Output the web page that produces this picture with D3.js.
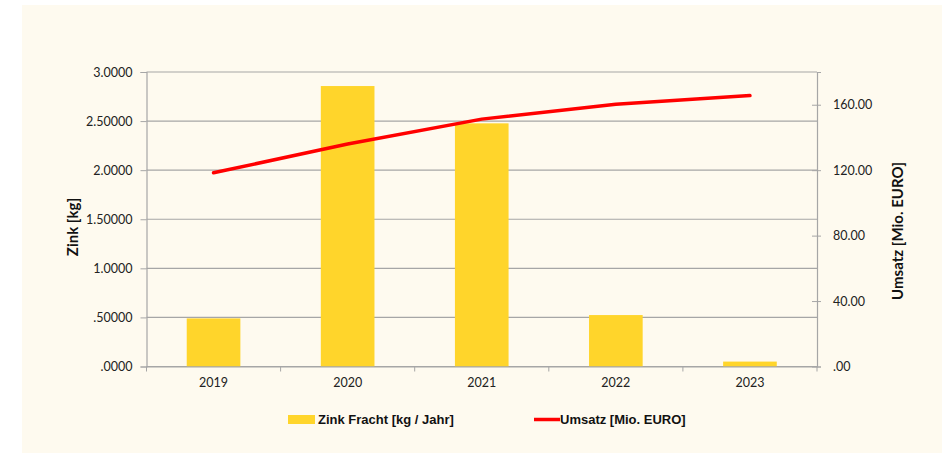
<!DOCTYPE html>
<html>
<head>
<meta charset="utf-8">
<script src="https://cdn.jsdelivr.net/npm/d3@7"></script>
<style>
  body { margin: 0; background: #ffffff; }
  svg text { font-family: Lato, "Open Sans", sans-serif; fill: #222; }
  .legend text { font-family: "Liberation Sans Narrow", "Liberation Sans", sans-serif; font-weight: bold; fill: #111; }
</style>
</head>
<body>
<svg class="chart"></svg>
<script>
// Data
var years = ["2019", "2020", "2021", "2022", "2023"];
var zinkFracht = [0.49, 2.857, 2.477, 0.524, 0.05];
var umsatz = [118.4, 136.0, 151.2, 160.3, 165.6];
var leftTicks = [0, 0.5, 1, 1.5, 2, 2.5, 3];
var leftTickLabels = [".0000", ".50000", "1.0000", "1.50000", "2.0000", "2.50000", "3.0000"];
var rightTicks = [0, 40, 80, 120, 160];
var rightTickLabels = [".00", "40.00", "80.00", "120.00", "160.00"];

// Margins
var margin = { top: 72, right: 125, bottom: 86.5, left: 146.5 },
    fullW = 942, fullH = 453,
    width = fullW - margin.left - margin.right,
    height = fullH - margin.top - margin.bottom;

var svg = d3.select(".chart")
    .attr("width", fullW)
    .attr("height", fullH);

// Background panel
svg.append("rect")
    .attr("x", 22).attr("y", 5)
    .attr("width", fullW - 22).attr("height", fullH - 5)
    .attr("fill", "#fefaef");

var chart = svg.append("g")
    .attr("transform", "translate(" + margin.left + "," + margin.top + ")");

// Scales
var x = d3.scaleBand().domain(years).range([0, width])
    .paddingInner(0.6).paddingOuter(0.3);
var xCat = d3.scaleBand().domain(years).range([0, width]); // for tick marks between categories
var y = d3.scaleLinear().domain([0, 3]).range([height, 0]);
var y2 = d3.scaleLinear().domain([0, 180]).range([height, 0]);

// Gridlines
chart.selectAll(".grid")
    .data(leftTicks)
    .enter().append("line")
    .attr("x1", 0).attr("x2", width)
    .attr("y1", function (d) { return y(d); })
    .attr("y2", function (d) { return y(d); })
    .attr("stroke", "#a6a6a6")
    .attr("stroke-width", 1.2);

// Bars
chart.selectAll(".bar")
    .data(zinkFracht)
    .enter().append("rect")
    .attr("class", "bar")
    .attr("x", function (d, i) { return x(years[i]); })
    .attr("y", function (d) { return y(d); })
    .attr("width", x.bandwidth())
    .attr("height", function (d) { return height - y(d); })
    .attr("fill", "#ffd52b");

// Left axis
var yAxis = d3.axisLeft(y).tickValues(leftTicks).tickSize(6).tickPadding(8)
    .tickFormat(function (d, i) { return leftTickLabels[i]; });
var gy = chart.append("g").call(yAxis);
gy.select(".domain").attr("stroke", "#a6a6a6").attr("stroke-width", 1.2);
gy.selectAll(".tick line").attr("stroke", "#a6a6a6");
gy.selectAll("text").style("font-size", "12.5px");

// Right axis
var yAxis2 = d3.axisRight(y2).tickValues(rightTicks).tickSize(4).tickPadding(12)
    .tickFormat(function (d, i) { return rightTickLabels[i]; });
var gy2 = chart.append("g").attr("transform", "translate(" + width + ",0)").call(yAxis2);
gy2.select(".domain").attr("stroke", "#a6a6a6").attr("stroke-width", 1.2);
gy2.selectAll(".tick line").attr("stroke", "#a6a6a6").attr("x1", -5);
gy2.selectAll("text").style("font-size", "12.5px");

// X axis
var xAxis = d3.axisBottom(xCat).tickSize(0).tickPadding(12);
var gx = chart.append("g").attr("transform", "translate(0," + height + ")").call(xAxis);
gx.select(".domain").attr("stroke", "#a6a6a6").attr("stroke-width", 1.2);
gx.selectAll("text").style("font-size", "12.5px");
var bounds = years.map(function (d) { return xCat(d); }).concat([width]);
gx.selectAll(".bound")
    .data(bounds)
    .enter().append("line")
    .attr("x1", function (d) { return d; }).attr("x2", function (d) { return d; })
    .attr("y1", 0).attr("y2", 5)
    .attr("stroke", "#a6a6a6");

// Line
var line = d3.line()
    .x(function (d, i) { return x(years[i]) + x.bandwidth() / 2; })
    .y(function (d) { return y2(d); });
chart.append("path")
    .datum(umsatz)
    .attr("d", line)
    .attr("fill", "none")
    .attr("stroke", "#ff0000")
    .attr("stroke-width", 3.5)
    .attr("stroke-linecap", "round")
    .attr("stroke-linejoin", "round");

// Axis titles
svg.append("text")
    .attr("transform", "translate(78,227) rotate(-90)")
    .attr("text-anchor", "middle")
    .style("font-size", "15px").style("font-weight", "bold").style("fill", "#111")
    .text("Zink [kg]");
svg.append("text")
    .attr("transform", "translate(903,231) rotate(-90)")
    .attr("text-anchor", "middle")
    .style("font-size", "15px").style("font-weight", "bold").style("fill", "#111")
    .text("Umsatz [Mio. EURO]");

// Legend
var legend = svg.append("g").attr("class", "legend");
legend.append("rect")
    .attr("x", 288).attr("y", 415).attr("width", 27).attr("height", 9)
    .attr("fill", "#ffd52b");
legend.append("text")
    .attr("x", 318).attr("y", 424)
    .style("font-size", "13px")
    .text("Zink Fracht [kg / Jahr]");
legend.append("line")
    .attr("x1", 534).attr("x2", 560).attr("y1", 419.5).attr("y2", 419.5)
    .attr("stroke", "#ff0000").attr("stroke-width", 3.5);
legend.append("text")
    .attr("x", 560).attr("y", 424)
    .style("font-size", "13px")
    .text("Umsatz [Mio. EURO]");
</script>
</body>
</html>
